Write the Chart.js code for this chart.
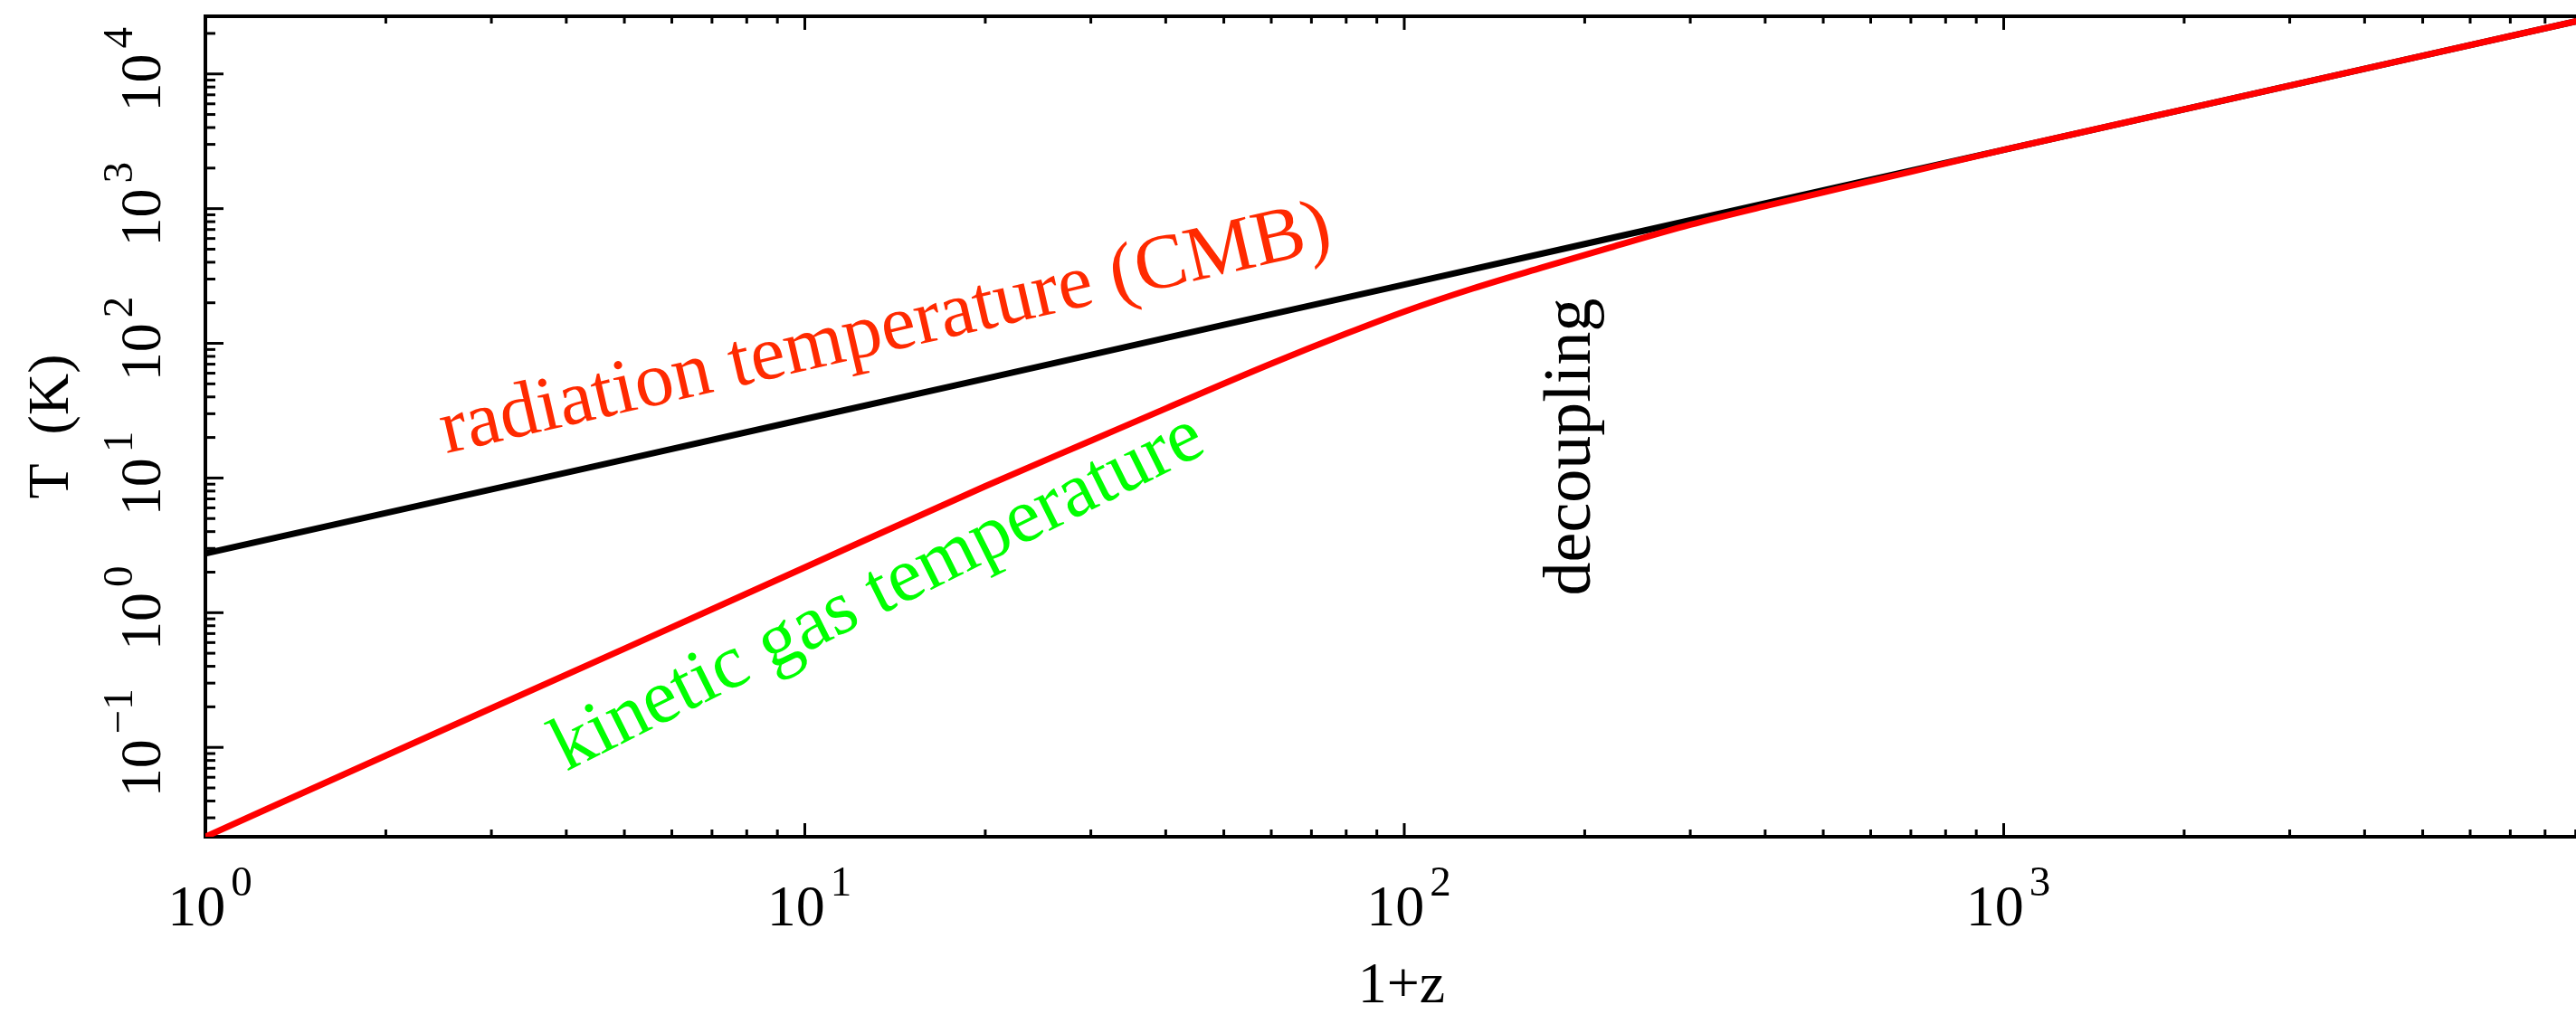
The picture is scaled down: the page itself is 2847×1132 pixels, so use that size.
<!DOCTYPE html>
<html>
<head>
<meta charset="utf-8">
<script src="https://cdn.jsdelivr.net/npm/chart.js@4.4.1/dist/chart.umd.min.js"></script>
<style>
html, body { margin: 0; padding: 0; background: #ffffff; overflow: hidden; width: 2847px; height: 1132px; }
#wrap { width: 2880px; height: 1132px; position: relative; }
canvas { display: block; }
</style>
</head>
<body>
<div id="wrap"><canvas id="c" width="2880" height="1132"></canvas></div>
<script>
// ---------------- data ----------------
// radiation (CMB) temperature vs 1+z
const cmbOnePlusZ = [1, 2, 5, 10, 20, 50, 100, 200, 500, 1000, 2000, 5000, 10000];
const cmbTemp     = [2.75, 5.5, 13.7, 27.4, 54.6, 137, 273, 546, 1365, 2730, 5460, 13650, 27300];

// kinetic gas temperature vs 1+z
const gasOnePlusZ = [1, 2, 5, 10, 20, 30, 40, 60, 80, 100, 130, 170, 220, 300, 410, 550, 700, 1000, 2000, 5000, 10000];
const gasTemp     = [0.0217, 0.087, 0.54, 2.17, 8.69, 18.9, 32.8, 70.6, 118, 172, 255, 366, 513, 760, 1072, 1460, 1880, 2730, 5460, 13650, 27300];

// axis ranges and tick labels (powers of ten)
const xRange = [1, 10000];
const yRange = [0.0217, 26800];
const xTickExponents = [0, 1, 2, 3];
const yTickExponents = [-1, 0, 1, 2, 3, 4];

// texts
const xTitle = '1+z';
const yTitle = 'T  (K)';
const labelRadiation = 'radiation temperature (CMB)';
const labelGas = 'kinetic gas temperature';
const labelDecoupling = 'decoupling';
// text anchors in data coordinates [1+z, T]
const anchorRadiation = [2.52, 15.2];
const anchorGas = [4.0, 0.066];
const anchorDecoupling = [203.7, 1.34];

// ---------------- drawing ----------------
const FONT = "'Liberation Serif', 'Times New Roman', serif";

function toPts(xs, ys) { return xs.map((v, i) => ({ x: v, y: ys[i] })); }

function supLabel(e) { return e < 0 ? '\u2212' + Math.abs(e) : String(e); }

const decorPlugin = {
  id: 'decor',
  beforeDatasetsDraw(chart) {
    const { ctx, chartArea: a, scales: { x, y } } = chart;
    ctx.save();
    ctx.strokeStyle = '#000';
    ctx.lineCap = 'butt';
    ctx.lineWidth = 3;
    const seg = (x1, y1, x2, y2) => { ctx.beginPath(); ctx.moveTo(x1, y1); ctx.lineTo(x2, y2); ctx.stroke(); };
    // x ticks (bottom and top, inward)
    const xe0 = Math.floor(Math.log10(x.min)), xe1 = Math.ceil(Math.log10(x.max));
    for (let e = xe0; e <= xe1; e++) {
      for (let m = 1; m <= 9; m++) {
        const v = m * Math.pow(10, e);
        if (v < x.min * 0.999 || v > x.max * 1.001) continue;
        const px = x.getPixelForValue(v);
        const len = m === 1 ? 15 : 8;
        seg(px, a.bottom, px, a.bottom - len);
        seg(px, a.top, px, a.top + len);
      }
    }
    // y ticks (left and right, inward)
    const ye0 = Math.floor(Math.log10(y.min)), ye1 = Math.ceil(Math.log10(y.max));
    for (let e = ye0; e <= ye1; e++) {
      for (let m = 1; m <= 9; m++) {
        const v = m * Math.pow(10, e);
        if (v < y.min * 0.999 || v > y.max * 1.001) continue;
        const py = y.getPixelForValue(v);
        const len = m === 1 ? 20 : 11;
        seg(a.left, py, a.left + len, py);
        seg(a.right, py, a.right - len, py);
      }
    }
    // frame
    ctx.lineWidth = 4;
    ctx.strokeRect(a.left, a.top, a.right - a.left, a.bottom - a.top);
    ctx.restore();
  },
  afterDatasetsDraw(chart) {
    const { ctx, chartArea: a, scales: { x, y } } = chart;
    ctx.save();
    ctx.textBaseline = 'alphabetic';
    ctx.textAlign = 'left';

    // tick labels 10^n
    const baseFont = '64px ' + FONT, supFont = '47px ' + FONT;
    const measure = (e) => {
      ctx.font = baseFont; const wb = ctx.measureText('10').width;
      ctx.font = supFont; const ws = ctx.measureText(supLabel(e)).width;
      return { wb, ws, W: wb + 6 + ws };
    };
    ctx.fillStyle = '#000';
    xTickExponents.forEach(e => {
      const px = x.getPixelForValue(Math.pow(10, e));
      const { wb, W } = measure(e);
      const sx = px - W / 2 + 5;
      ctx.font = baseFont; ctx.fillText('10', sx, 1023);
      ctx.font = supFont; ctx.fillText(supLabel(e), sx + wb + 6, 990);
    });
    yTickExponents.forEach(e => {
      const py = y.getPixelForValue(Math.pow(10, e));
      const { wb, W } = measure(e);
      ctx.save();
      ctx.translate(177, py);
      ctx.rotate(-Math.PI / 2);
      const sx = -W / 2 + 5;
      ctx.font = baseFont; ctx.fillText('10', sx, 0);
      ctx.font = supFont; ctx.fillText(supLabel(e), sx + wb + 6, -31);
      ctx.restore();
    });

    // axis titles
    ctx.font = '64px ' + FONT;
    ctx.textAlign = 'center';
    ctx.fillText(xTitle, (a.left + a.right) / 2 - 3, 1108);
    ctx.save();
    ctx.translate(75, (a.top + a.bottom) / 2);
    ctx.rotate(-Math.PI / 2);
    ctx.fillText(yTitle, 0, 0);
    ctx.restore();

    // annotations
    const drawRot = (txt, anchor, deg, color, size) => {
      ctx.save();
      ctx.translate(x.getPixelForValue(anchor[0]), y.getPixelForValue(anchor[1]));
      ctx.rotate(-deg * Math.PI / 180);
      ctx.font = size + 'px ' + FONT;
      ctx.fillStyle = color;
      ctx.textAlign = 'left';
      ctx.fillText(txt, 0, 0);
      ctx.restore();
    };
    drawRot(labelRadiation, anchorRadiation, 13.0, '#ff2a00', 86);
    drawRot(labelGas, anchorGas, 26.5, '#00ff00', 85);
    drawRot(labelDecoupling, anchorDecoupling, 90, '#000000', 74);
    ctx.restore();
  }
};

new Chart(document.getElementById('c'), {
  type: 'line',
  data: {
    datasets: [
      {
        label: 'kinetic gas temperature',
        data: toPts(gasOnePlusZ, gasTemp),
        borderColor: '#ff0000',
        borderWidth: 7,
        pointRadius: 0,
        fill: false,
        cubicInterpolationMode: 'monotone',
        order: 0
      },
      {
        label: 'radiation temperature (CMB)',
        data: toPts(cmbOnePlusZ, cmbTemp),
        borderColor: '#000000',
        borderWidth: 7,
        pointRadius: 0,
        fill: false,
        tension: 0,
        order: 1
      }
    ]
  },
  options: {
    responsive: false,
    animation: false,
    devicePixelRatio: 1,
    layout: { padding: { left: 0, top: 18, right: 3, bottom: 0 } },
    plugins: { legend: { display: false }, tooltip: { enabled: false }, title: { display: false } },
    scales: {
      x: {
        type: 'logarithmic',
        min: xRange[0], max: xRange[1],
        grid: { display: false, drawTicks: false },
        border: { display: false },
        ticks: { display: false },
        afterFit(s) { s.height = 207; }
      },
      y: {
        type: 'logarithmic',
        min: yRange[0], max: yRange[1],
        grid: { display: false, drawTicks: false },
        border: { display: false },
        ticks: { display: false },
        afterFit(s) { s.width = 227; }
      }
    }
  },
  plugins: [decorPlugin]
});
</script>
</body>
</html>
